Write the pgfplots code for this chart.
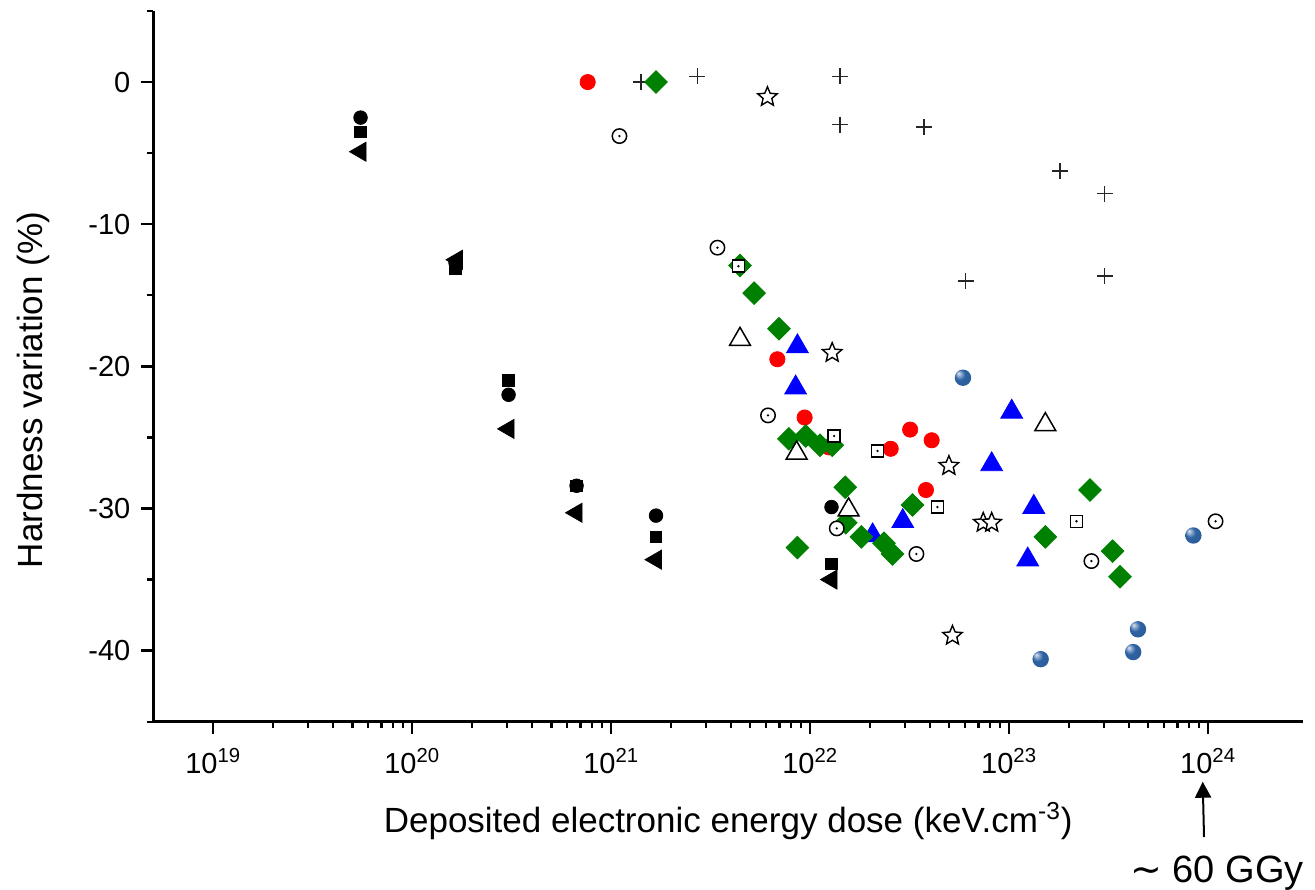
\documentclass[border=0pt]{standalone}
\usepackage{pgfplots}
\pgfplotsset{compat=1.18}
\usepackage{fontspec}
\setmainfont{Liberation Sans}
\newfontfamily\dejavu{DejaVu Sans}
\usetikzlibrary{plotmarks,arrows.meta}

\definecolor{ballblue}{HTML}{2E62A2}
\definecolor{dgreen}{HTML}{008000}

% open circle with a centre dot
\pgfdeclareplotmark{odot}{%
  \pgfpathcircle{\pgfpointorigin}{\pgfplotmarksize}\pgfusepathqfillstroke
  \pgfpathcircle{\pgfpointorigin}{0.12pt}\pgfusepathqstroke}
% open square with a centre dot
\pgfdeclareplotmark{sdot}{%
  \pgfpathrectangle{\pgfpoint{-\pgfplotmarksize}{-\pgfplotmarksize}}{\pgfpoint{2\pgfplotmarksize}{2\pgfplotmarksize}}\pgfusepathqfillstroke
  \pgfpathcircle{\pgfpointorigin}{0.12pt}\pgfusepathqstroke}
% five-pointed outline star
\pgfdeclareplotmark{ostar}{%
  \pgfpathmoveto{\pgfpointpolar{90}{\pgfplotmarksize}}%
  \pgfpathlineto{\pgfpointpolar{126}{0.45\pgfplotmarksize}}%
  \pgfpathlineto{\pgfpointpolar{162}{\pgfplotmarksize}}%
  \pgfpathlineto{\pgfpointpolar{198}{0.45\pgfplotmarksize}}%
  \pgfpathlineto{\pgfpointpolar{234}{\pgfplotmarksize}}%
  \pgfpathlineto{\pgfpointpolar{270}{0.45\pgfplotmarksize}}%
  \pgfpathlineto{\pgfpointpolar{306}{\pgfplotmarksize}}%
  \pgfpathlineto{\pgfpointpolar{342}{0.45\pgfplotmarksize}}%
  \pgfpathlineto{\pgfpointpolar{18}{\pgfplotmarksize}}%
  \pgfpathlineto{\pgfpointpolar{54}{0.45\pgfplotmarksize}}%
  \pgfpathclose\pgfusepathqfillstroke}
% glossy blue sphere
\pgfdeclareradialshading{sphere}{\pgfpoint{-14bp}{14bp}}{%
  color(0bp)=(ballblue!15!white); color(7bp)=(ballblue!55!white);
  color(16bp)=(ballblue); color(40bp)=(ballblue!92!black); color(50bp)=(ballblue!80!black)}
\pgfdeclareplotmark{sphere}{%
  \pgfpathcircle{\pgfpointorigin}{\pgfplotmarksize}\pgfshadepath{sphere}{0}\pgfusepath{}}

\begin{document}
\begin{tikzpicture}[x=0.5pt,y=0.5pt]
\useasboundingbox (-153.3,-167.3) rectangle (1161.7,721.7);
\begin{axis}[
  at={(0,0)}, anchor=south west,
  scale only axis, width=574.85pt, height=355.35pt,
  xmode=log, xmin=5e18, xmax=3e24, ymin=-45, ymax=5,
  axis lines=left, axis line style={-, line width=1.5pt},
  tick align=outside,
  major tick length=6pt, minor tick length=3pt,
  every tick/.style={black, line width=1.2pt},
  xtick={1e19,1e20,1e21,1e22,1e23,1e24},
  xticklabels={10\textsuperscript{19},10\textsuperscript{20},10\textsuperscript{21},10\textsuperscript{22},10\textsuperscript{23},10\textsuperscript{24}},
  ytick={-40,-30,-20,-10,0},
  yticklabels={-40,-30,-20,-10,0},
  minor ytick={-45,-35,-25,-15,-5,5},
  tick label style={font=\fontsize{14.5}{17}\selectfont},
  xticklabel style={yshift=-4pt},
  yticklabel style={xshift=-2pt},
  xlabel={Deposited electronic energy dose (keV.cm\textsuperscript{-3})},
  ylabel={Hardness variation (\%)},
  label style={font=\fontsize{17.5}{21}\selectfont},
  xlabel style={at={(axis description cs:0.5,-0.1552)}, anchor=base},
  ylabel style={at={(axis description cs:-0.0968,0.4667)}, anchor=base},
  clip=false,
]
% plus series
\addplot[only marks, mark=+, mark size=4pt, black!85, mark options={line width=0.7pt}] coordinates {
  (1.41e21,0.0) (2.71e21,0.4) (1.41e22,0.4) (1.41e22,-3.0) (3.73e22,-3.15)
  (1.80e23,-6.25) (3.02e23,-7.85) (6.04e22,-14.0) (3.02e23,-13.65)};
% red filled circles
\addplot[only marks, mark=*, mark size=3.8pt, red] coordinates {
  (7.62e20,0) (6.84e21,-19.5) (9.38e21,-23.6) (1.24e22,-25.7)
  (2.54e22,-25.8) (3.18e22,-24.45) (4.08e22,-25.2) (3.82e22,-28.7)};
% blue filled triangles
\addplot[only marks, mark=triangle*, mark size=6.3pt, blue] coordinates {
  (8.63e21,-18.6) (8.45e21,-21.5) (1.03e23,-23.2) (8.17e22,-26.9)
  (1.33e23,-29.9) (1.24e23,-33.6) (2.92e22,-30.9) (2.06e22,-31.9)};
% green filled diamonds
\addplot[only marks, mark=square*, mark size=4pt, dgreen, mark options={rotate=45}] coordinates {
  (1.68e21,0.0) (4.44e21,-12.9) (5.23e21,-14.85) (6.97e21,-17.35)
  (7.82e21,-25.1) (9.49e21,-24.9) (1.12e22,-25.55) (1.29e22,-25.55)
  (1.50e22,-28.5) (1.51e22,-31.0) (8.63e21,-32.75) (1.81e22,-32.0)
  (2.35e22,-32.45) (2.59e22,-33.2) (3.27e22,-29.75) (2.55e23,-28.7)
  (1.52e23,-32.0) (3.31e23,-33.0) (3.61e23,-34.8)};
% open circles
\addplot[only marks, mark=odot, mark size=3.6pt, black, mark options={fill=white, line width=0.75pt}] coordinates {
  (1.10e21,-3.8) (3.42e21,-11.65) (6.14e21,-23.45) (1.36e22,-31.4)
  (3.42e22,-33.2) (2.59e23,-33.7) (1.09e24,-30.9)};
% open squares
\addplot[only marks, mark=sdot, mark size=3pt, black, mark options={fill=white, line width=0.75pt}] coordinates {
  (4.36e21,-12.95) (1.32e22,-24.9) (2.18e22,-25.95) (4.36e22,-29.9) (2.18e23,-30.9)};
% open triangles
\addplot[only marks, mark=triangle*, mark size=6pt, black, mark options={fill=white, line width=0.75pt}] coordinates {
  (4.44e21,-18.1) (8.55e21,-26.1) (1.56e22,-30.1) (1.52e23,-24.1)};
% open stars
\addplot[only marks, mark=ostar, mark size=5.1pt, black, mark options={fill=white, line width=0.7pt}] coordinates {
  (6.10e21,-1.05) (1.29e22,-19.05) (4.98e22,-27.0) (7.41e22,-31.0)
  (8.17e22,-31.0) (5.19e22,-38.95)};
% shaded spheres
\addplot[only marks, mark=sphere, mark size=4.1pt] coordinates {
  (5.86e22,-20.8) (8.43e23,-31.9) (4.44e23,-38.5) (4.20e23,-40.1) (1.44e23,-40.6)};
% black series
\addplot[only marks, mark=*, mark size=3.4pt, black] coordinates {
  (5.5e19,-2.5) (1.65e20,-12.7) (3.05e20,-22.0) (6.7e20,-28.4) (1.68e21,-30.5) (1.28e22,-29.9)};
\addplot[only marks, mark=square*, mark size=2.9pt, black] coordinates {
  (5.5e19,-3.5) (1.65e20,-13.1) (3.05e20,-21.0) (6.7e20,-28.4) (1.68e21,-32.0) (1.28e22,-33.9)};
\addplot[only marks, mark=triangle*, mark size=5.5pt, black, mark options={rotate=90}] coordinates {
  (5.5e19,-4.9) (1.68e20,-12.5) (3.05e20,-24.4) (6.7e20,-30.3) (1.68e21,-33.6) (1.28e22,-35.0)};
\end{axis}
\draw[line width=1pt, -{Triangle[length=8pt,width=8pt]}] (1050.7,-115.3) -- (1049.4,-60);
\node[anchor=base west, inner sep=0, font=\fontsize{19}{22}\selectfont] at (976.7,-160.3) {{\dejavu ∼} 60 GGy};
\end{tikzpicture}
\end{document}
